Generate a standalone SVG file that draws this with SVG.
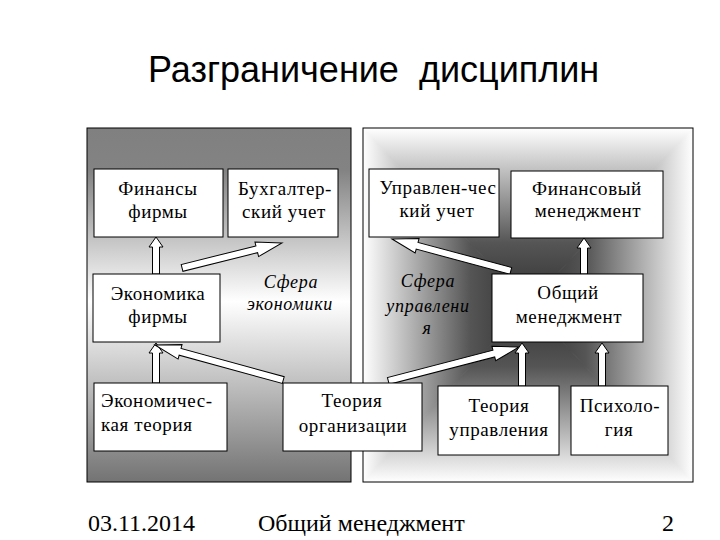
<svg xmlns="http://www.w3.org/2000/svg" width="720" height="540" viewBox="0 0 720 540">
<defs>
<style>
.box{fill:#fff;stroke:#000;stroke-width:1}
.c{text-anchor:middle}
.arr{fill:#fff;stroke:#000;stroke-width:1;stroke-linejoin:miter}
</style>
<linearGradient id="gl" x1="0" y1="128" x2="0" y2="482" gradientUnits="userSpaceOnUse">
<stop offset="0" stop-color="#808080"/>
<stop offset="0.12" stop-color="#838383"/>
<stop offset="0.49" stop-color="#ffffff"/>
<stop offset="1" stop-color="#737373"/>
</linearGradient>
<linearGradient id="gt" x1="0" y1="128" x2="0" y2="305" gradientUnits="userSpaceOnUse"><stop offset="0" stop-color="#fff"/><stop offset="0.65" stop-color="#555"/><stop offset="1" stop-color="#303030"/></linearGradient>
<linearGradient id="gb" x1="0" y1="482" x2="0" y2="305" gradientUnits="userSpaceOnUse"><stop offset="0" stop-color="#fff"/><stop offset="0.65" stop-color="#555"/><stop offset="1" stop-color="#303030"/></linearGradient>
<linearGradient id="gle" x1="363" y1="0" x2="528" y2="0" gradientUnits="userSpaceOnUse"><stop offset="0" stop-color="#fff"/><stop offset="0.65" stop-color="#555"/><stop offset="1" stop-color="#303030"/></linearGradient>
<linearGradient id="gri" x1="693" y1="0" x2="528" y2="0" gradientUnits="userSpaceOnUse"><stop offset="0" stop-color="#fff"/><stop offset="0.65" stop-color="#555"/><stop offset="1" stop-color="#303030"/></linearGradient>
</defs>
<rect width="720" height="540" fill="#fff"/>
<text x="148" y="82" font-family="Liberation Sans, Arial, sans-serif" font-size="36" fill="#000" xml:space="preserve">Разграничение  дисциплин</text>

<g id="panel-economy">
<rect x="87" y="128" width="264" height="354" fill="url(#gl)" stroke="#000" stroke-width="1"/>
</g>
<g id="panel-management">
<polygon points="363,128 693,128 528,305" fill="url(#gt)" stroke="url(#gt)" stroke-width="1"/>
<polygon points="363,482 693,482 528,305" fill="url(#gb)" stroke="url(#gb)" stroke-width="1"/>
<polygon points="363,128 363,482 528,305" fill="url(#gle)" stroke="url(#gle)" stroke-width="1"/>
<polygon points="693,128 693,482 528,305" fill="url(#gri)" stroke="url(#gri)" stroke-width="1"/>
<rect x="363" y="128" width="330" height="354" fill="none" stroke="#000" stroke-width="1"/>
</g>

<g font-family="Liberation Serif, DejaVu Serif, serif" font-size="18" font-style="italic" text-anchor="middle" letter-spacing="0.7" fill="#000">
<g id="label-economy">
<text x="291" y="288">Сфера</text>
<text x="290" y="310">экономики</text>
</g>
<g id="label-management">
<text x="428" y="287">Сфера</text>
<text x="428" y="312">управлени</text>
<text x="427" y="334">я</text>
</g>
</g>

<g id="connectors">
<polygon class="arr" transform="translate(156,237) rotate(-90)" points="0,0 -10,-7 -10,-3.5 -37,-3.5 -37,3.5 -10,3.5 -10,7"/>
<polygon class="arr" transform="translate(282,243) rotate(-14)" points="0,0 -26,-7.5 -26,-3.5 -103,-3.5 -103,3.5 -26,3.5 -26,7.5"/>
<polygon class="arr" transform="translate(156,343) rotate(-90)" points="0,0 -10,-7 -10,-3.5 -40,-3.5 -40,3.5 -10,3.5 -10,7"/>
<polygon class="arr" transform="translate(155,345) rotate(-164.7)" points="0,0 -26,-7.5 -26,-3.5 -133,-3.5 -133,3.5 -26,3.5 -26,7.5"/>
<polygon class="arr" transform="translate(519,347) rotate(-14.55)" points="0,0 -26,-7.5 -26,-3.5 -135,-3.5 -135,3.5 -26,3.5 -26,7.5"/>
<polygon class="arr" transform="translate(522,343) rotate(-90)" points="0,0 -10,-7 -10,-3.5 -43,-3.5 -43,3.5 -10,3.5 -10,7"/>
<polygon class="arr" transform="translate(602,343) rotate(-90)" points="0,0 -10,-7 -10,-3.5 -43,-3.5 -43,3.5 -10,3.5 -10,7"/>
<polygon class="arr" transform="translate(584,238) rotate(-90)" points="0,0 -10,-7 -10,-3.5 -36,-3.5 -36,3.5 -10,3.5 -10,7"/>
<polygon class="arr" transform="translate(392,239) rotate(-164.95)" points="0,0 -26,-7.5 -26,-3.5 -123,-3.5 -123,3.5 -26,3.5 -26,7.5"/>
</g>

<g font-family="Liberation Serif, DejaVu Serif, serif" font-size="19" letter-spacing="0.6" fill="#000">
<g id="finance-firm">
<rect class="box" x="94" y="169" width="129" height="68"/>
<text class="c" x="158" y="195">Финансы</text>
<text class="c" x="158" y="218">фирмы</text>
</g>
<g id="accounting">
<rect class="box" x="228" y="169" width="110" height="68"/>
<text class="c" x="285" y="195">Бухгалтер-</text>
<text class="c" x="284" y="218">ский учет</text>
</g>
<g id="mgmt-accounting">
<rect class="box" x="369" y="169" width="130" height="68"/>
<text class="c" x="438" y="194">Управлен-чес</text>
<text class="c" x="437" y="217">кий учет</text>
</g>
<g id="fin-management">
<rect class="box" x="511" y="171" width="152" height="67"/>
<text class="c" x="587" y="195">Финансовый</text>
<text class="c" x="588" y="217">менеджмент</text>
</g>
<g id="firm-economics">
<rect class="box" x="93" y="274" width="127" height="68"/>
<text class="c" x="158" y="300">Экономика</text>
<text class="c" x="158" y="323">фирмы</text>
</g>
<g id="general-management">
<rect class="box" x="492" y="274" width="151" height="68"/>
<text class="c" x="568" y="299">Общий</text>
<text class="c" x="569" y="323">менеджмент</text>
</g>
<g id="economic-theory">
<rect class="box" x="94" y="383" width="133" height="68"/>
<text x="101" y="407">Экономичес-</text>
<text x="101" y="431">кая теория</text>
</g>
<g id="org-theory">
<rect class="box" x="283" y="383" width="139" height="68"/>
<text class="c" x="352" y="407">Теория</text>
<text class="c" x="353" y="432">организации</text>
</g>
<g id="mgmt-theory">
<rect class="box" x="438" y="386" width="121" height="69"/>
<text class="c" x="499" y="412">Теория</text>
<text class="c" x="499" y="436">управления</text>
</g>
<g id="psychology">
<rect class="box" x="571" y="386" width="97" height="69"/>
<text class="c" x="620" y="412">Психоло-</text>
<text class="c" x="619" y="436">гия</text>
</g>
</g>

<g font-family="Liberation Serif, DejaVu Serif, serif" font-size="24" fill="#000">
<text x="88" y="531">03.11.2014</text>
<text x="258" y="531">Общий менеджмент</text>
<text x="662" y="531">2</text>
</g>
</svg>
